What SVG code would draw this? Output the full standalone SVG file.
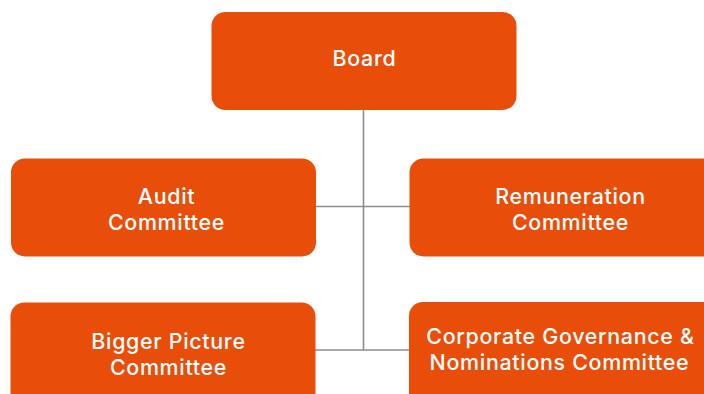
<svg xmlns="http://www.w3.org/2000/svg" width="704" height="394" viewBox="0 0 704 394">
  <style>
    .box { fill: #E84E0A; }
    .label { fill: #ffffff; font-family: Inter, "Open Sans", "Liberation Sans", sans-serif; font-size: 21.4px; font-weight: 500; letter-spacing: 0.7px; text-anchor: middle; }
    .link { stroke: #8C8C8C; stroke-width: 1.6; fill: none; }
  </style>
  <rect width="704" height="394" fill="#ffffff"/>

  <!-- connectors: trunk from the board and the branches to each committee -->
  <g id="connectors">
    <line class="link" x1="363.5" y1="109" x2="363.5" y2="350"/>
    <line class="link" x1="315" y1="206.5" x2="410" y2="206.5"/>
    <line class="link" x1="315" y1="350" x2="410" y2="350"/>
  </g>

  <g id="board">
    <rect class="box" x="211.5" y="12" width="305" height="98" rx="14"/>
    <text class="label" x="364.5" y="66">Board</text>
  </g>

  <g id="audit">
    <rect class="box" x="11" y="158.5" width="305" height="98" rx="14"/>
    <text class="label" y="204"><tspan x="166.5">Audit</tspan><tspan x="166.5" dy="26">Committee</tspan></text>
  </g>

  <g id="remuneration">
    <rect class="box" x="409.5" y="158.5" width="321" height="98" rx="14"/>
    <text class="label" y="203.5"><tspan x="570.5">Remuneration</tspan><tspan x="570.5" dy="26">Committee</tspan></text>
  </g>

  <g id="bigger-picture">
    <rect class="box" x="10.5" y="302.5" width="305" height="110" rx="14"/>
    <text class="label" y="348.5"><tspan x="168.5">Bigger Picture</tspan><tspan x="168.5" dy="26">Committee</tspan></text>
  </g>

  <g id="corporate-governance">
    <rect class="box" x="409" y="302" width="321" height="110" rx="14"/>
    <text class="label" y="343.5"><tspan x="560.5">Corporate Governance &amp;</tspan><tspan x="559.5" dy="26.5">Nominations Committee</tspan></text>
  </g>
</svg>
